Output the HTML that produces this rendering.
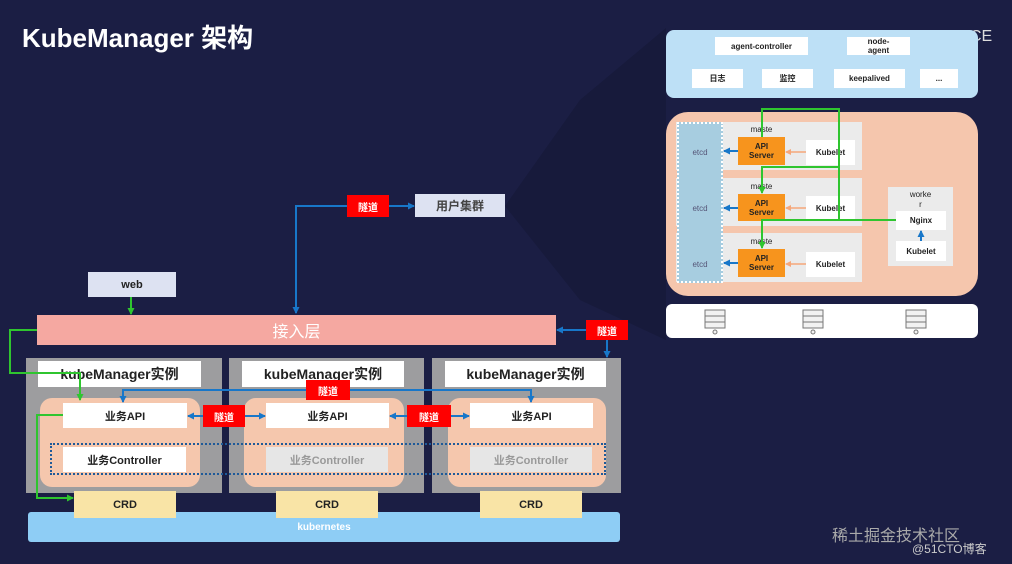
<!DOCTYPE html>
<html><head><meta charset="utf-8"><style>
body{margin:0;width:1012px;height:564px;overflow:hidden;background:#1b1e44;font-family:"Liberation Sans","Noto Sans CJK SC",sans-serif;position:relative}
.b{position:absolute;box-sizing:border-box;display:flex;align-items:center;justify-content:center;text-align:center;font-weight:bold;color:#222}
.r{background:#f00;color:#fff;font-size:10px}
svg{position:absolute;left:0;top:0}
</style></head><body>
<svg width="1012" height="564">
<polygon points="505,206 580,100 666,28 666,340 580,300" fill="#171a3b"/>
</svg>
<div class="b" style="left:22px;top:18px;color:#fff;font-size:26px;font-weight:bold;justify-content:flex-start">KubeManager 架构</div>
<div class="b" style="left:970px;top:28px;color:#ddd;font-size:16px;font-weight:normal">CE</div>
<div class="b" style="left:88px;top:272px;width:88px;height:25px;background:#dde2f2;font-size:11px">web</div>
<div class="b r" style="left:347px;top:195px;width:42px;height:22px">隧道</div>
<div class="b" style="left:415px;top:194px;width:90px;height:23px;background:#dde2f2;font-size:12px;color:#444">用户集群</div>
<div class="b" style="left:37px;top:315px;width:519px;height:30px;background:#f5a8a1;color:#fff;font-size:16px;font-weight:normal">接入层</div>
<div class="b r" style="left:586px;top:320px;width:42px;height:20px">隧道</div>
<div class="b" style="left:26px;top:358px;width:196px;height:135px;background:#9d9d9f"></div>
<div class="b" style="left:229px;top:358px;width:195px;height:135px;background:#9d9d9f"></div>
<div class="b" style="left:432px;top:358px;width:189px;height:135px;background:#9d9d9f"></div>
<div class="b" style="left:38px;top:361px;width:163px;height:26px;background:#fff;font-size:14px">kubeManager实例</div>
<div class="b" style="left:242px;top:361px;width:162px;height:26px;background:#fff;font-size:14px">kubeManager实例</div>
<div class="b" style="left:445px;top:361px;width:161px;height:26px;background:#fff;font-size:14px">kubeManager实例</div>
<div class="b" style="left:40px;top:398px;width:160px;height:89px;background:#f5c7ad;border-radius:12px"></div>
<div class="b" style="left:244px;top:398px;width:160px;height:89px;background:#f5c7ad;border-radius:12px"></div>
<div class="b" style="left:448px;top:398px;width:158px;height:89px;background:#f5c7ad;border-radius:12px"></div>
<div class="b" style="left:63px;top:403px;width:124px;height:25px;background:#fff;font-size:11px">业务API</div>
<div class="b" style="left:266px;top:403px;width:123px;height:25px;background:#fff;font-size:11px">业务API</div>
<div class="b" style="left:470px;top:403px;width:123px;height:25px;background:#fff;font-size:11px">业务API</div>
<div class="b" style="left:63px;top:447px;width:123px;height:25px;background:#fff;font-size:11px">业务Controller</div>
<div class="b" style="left:266px;top:447px;width:122px;height:25px;background:#e6e6e6;font-size:11px;color:#999">业务Controller</div>
<div class="b" style="left:470px;top:447px;width:122px;height:25px;background:#e6e6e6;font-size:11px;color:#999">业务Controller</div>
<div class="b" style="left:50px;top:443px;width:556px;height:32px;border:2.5px dotted #1e5a99"></div>
<div class="b r" style="left:306px;top:380px;width:44px;height:20px">隧道</div>
<div class="b r" style="left:203px;top:405px;width:42px;height:22px">隧道</div>
<div class="b r" style="left:407px;top:405px;width:44px;height:22px">隧道</div>
<div class="b" style="left:28px;top:512px;width:592px;height:30px;background:#8ecdf5;color:#fff;font-size:10px;border-radius:3px">kubernetes</div>
<div class="b" style="left:74px;top:491px;width:102px;height:27px;background:#f9e4a6;font-size:11px">CRD</div>
<div class="b" style="left:276px;top:491px;width:102px;height:27px;background:#f9e4a6;font-size:11px">CRD</div>
<div class="b" style="left:480px;top:491px;width:102px;height:27px;background:#f9e4a6;font-size:11px">CRD</div>
<div class="b" style="left:666px;top:30px;width:312px;height:68px;background:#bde0f6;border-radius:8px"></div>
<div class="b" style="left:715px;top:37px;width:93px;height:18px;background:#fff;font-size:8px">agent-controller</div>
<div class="b" style="left:847px;top:37px;width:63px;height:18px;background:#fff;font-size:8px;line-height:9px">node-<br>agent</div>
<div class="b" style="left:692px;top:69px;width:51px;height:19px;background:#fff;font-size:8px">日志</div>
<div class="b" style="left:762px;top:69px;width:51px;height:19px;background:#fff;font-size:8px">监控</div>
<div class="b" style="left:834px;top:69px;width:71px;height:19px;background:#fff;font-size:8px">keepalived</div>
<div class="b" style="left:920px;top:69px;width:38px;height:19px;background:#fff;font-size:8px">...</div>
<div class="b" style="left:666px;top:112px;width:312px;height:184px;background:#f5c6ad;border-radius:22px"></div>
<div class="b" style="left:676px;top:122px;width:186px;height:48px;background:#ebebeb"></div>
<div class="b" style="left:676px;top:178px;width:186px;height:48px;background:#ebebeb"></div>
<div class="b" style="left:676px;top:233px;width:186px;height:49px;background:#ebebeb"></div>
<div class="b" style="left:677px;top:122px;width:46px;height:161px;background:#a7cde0;border:2px dotted #fff"></div>
<div class="b" style="left:680px;top:143px;width:40px;height:18px;color:#557;font-size:8px;font-weight:normal">etcd</div>
<div class="b" style="left:680px;top:199px;width:40px;height:18px;color:#557;font-size:8px;font-weight:normal">etcd</div>
<div class="b" style="left:680px;top:255px;width:40px;height:18px;color:#557;font-size:8px;font-weight:normal">etcd</div>
<div class="b" style="left:738px;top:123px;width:47px;height:12px;font-size:8px;font-weight:normal">maste</div>
<div class="b" style="left:738px;top:180px;width:47px;height:12px;font-size:8px;font-weight:normal">maste</div>
<div class="b" style="left:738px;top:235px;width:47px;height:12px;font-size:8px;font-weight:normal">maste</div>
<div class="b" style="left:738px;top:137px;width:47px;height:28px;background:#f7941d;font-size:8px;line-height:9px">API<br>Server</div>
<div class="b" style="left:738px;top:194px;width:47px;height:27px;background:#f7941d;font-size:8px;line-height:9px">API<br>Server</div>
<div class="b" style="left:738px;top:249px;width:47px;height:28px;background:#f7941d;font-size:8px;line-height:9px">API<br>Server</div>
<div class="b" style="left:806px;top:140px;width:49px;height:25px;background:#fff;font-size:8px">Kubelet</div>
<div class="b" style="left:806px;top:196px;width:49px;height:25px;background:#fff;font-size:8px">Kubelet</div>
<div class="b" style="left:806px;top:252px;width:49px;height:25px;background:#fff;font-size:8px">Kubelet</div>
<div class="b" style="left:888px;top:187px;width:65px;height:79px;background:#ebebeb;align-items:flex-start;font-size:8px;font-weight:normal;line-height:10px;padding-top:3px">worke<br>r</div>
<div class="b" style="left:896px;top:211px;width:50px;height:19px;background:#fff;font-size:8px">Nginx</div>
<div class="b" style="left:896px;top:241px;width:50px;height:20px;background:#fff;font-size:8px">Kubelet</div>
<div class="b" style="left:666px;top:304px;width:312px;height:34px;background:#fff;border-radius:6px"></div>
<svg width="1012" height="564">
<defs>
<marker id="bl" markerUnits="userSpaceOnUse" markerWidth="7" markerHeight="7" refX="6" refY="3.5" orient="auto"><path d="M0,0L7,3.5L0,7z" fill="#1877c9"/></marker>
<marker id="gr" markerUnits="userSpaceOnUse" markerWidth="7" markerHeight="7" refX="6" refY="3.5" orient="auto"><path d="M0,0L7,3.5L0,7z" fill="#2fc52f"/></marker>
<marker id="or" markerUnits="userSpaceOnUse" markerWidth="6" markerHeight="6" refX="5" refY="3" orient="auto"><path d="M0,0L6,3L0,6z" fill="#f6a77a"/></marker>
</defs>
<g fill="none" stroke="#1877c9" stroke-width="2">
<path d="M347,206H296V313" marker-end="url(#bl)"/>
<path d="M389,206H414" marker-end="url(#bl)"/>
<path d="M586,330H557" marker-end="url(#bl)"/>
<path d="M607,340V357" marker-end="url(#bl)"/>
<path d="M306,390H123V402" marker-end="url(#bl)"/>
<path d="M350,390H531V402" marker-end="url(#bl)"/>
<path d="M203,416H188" marker-end="url(#bl)"/>
<path d="M245,416H265" marker-end="url(#bl)"/>
<path d="M407,416H390" marker-end="url(#bl)"/>
<path d="M451,416H469" marker-end="url(#bl)"/>
<path d="M738,151H724" marker-end="url(#bl)"/>
<path d="M738,208H724" marker-end="url(#bl)"/>
<path d="M738,263H724" marker-end="url(#bl)"/>
<path d="M921,241V231" marker-end="url(#bl)"/>
</g>
<g fill="none" stroke="#2fc52f" stroke-width="2">
<path d="M131,297V314" marker-end="url(#gr)"/>
<path d="M37,330H10V373H80V400" marker-end="url(#gr)"/>
<path d="M63,415H37V498H73" marker-end="url(#gr)"/>
<path d="M896,220H762V248" marker-end="url(#gr)"/>
<path d="M762,137V109H839V220"/>
<path d="M839,167H762V193" marker-end="url(#gr)"/>
</g>
<g stroke="#f6a77a" stroke-width="1.5" fill="none">
<path d="M806,152H786" marker-end="url(#or)"/>
<path d="M806,208H786" marker-end="url(#or)"/>
<path d="M806,264H786" marker-end="url(#or)"/>
</g>
<g fill="#f2f2f2" stroke="#777" stroke-width="1">
<rect x="705" y="310" width="20" height="6"/><rect x="705" y="316" width="20" height="6"/><rect x="705" y="322" width="20" height="6"/><circle cx="715" cy="332" r="2"/>
<rect x="803" y="310" width="20" height="6"/><rect x="803" y="316" width="20" height="6"/><rect x="803" y="322" width="20" height="6"/><circle cx="813" cy="332" r="2"/>
<rect x="906" y="310" width="20" height="6"/><rect x="906" y="316" width="20" height="6"/><rect x="906" y="322" width="20" height="6"/><circle cx="916" cy="332" r="2"/>
</g>
</svg>
<div class="b" style="left:832px;top:522px;color:#aaa;font-size:16px;font-weight:normal">稀土掘金技术社区</div>
<div class="b" style="left:912px;top:540px;color:#ccc;font-size:12px;font-weight:normal">@51CTO博客</div>
</body></html>
